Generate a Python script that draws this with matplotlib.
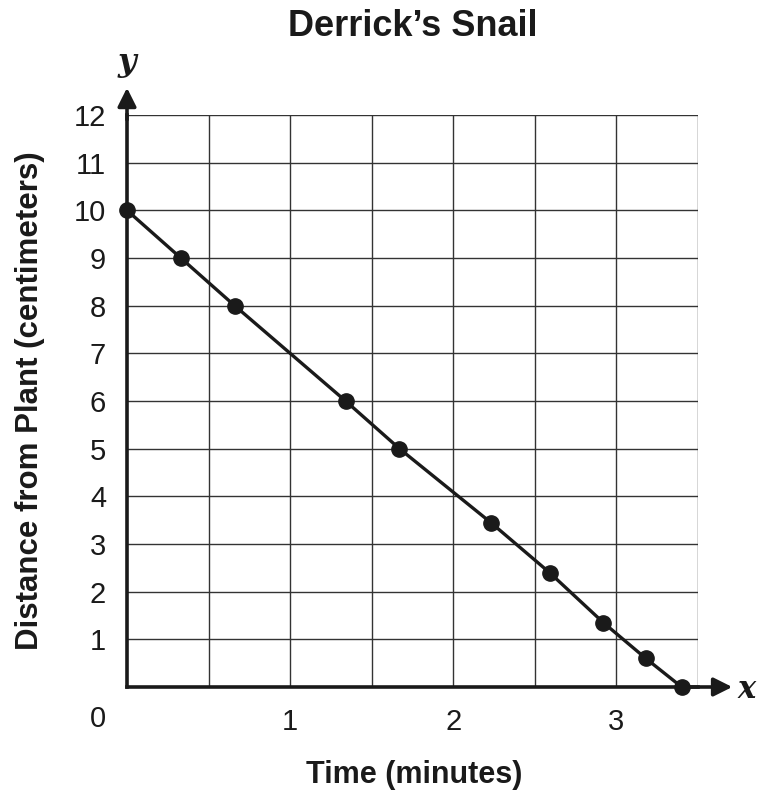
import matplotlib
matplotlib.use("Agg")
import matplotlib.pyplot as plt

# data
time_min = [0, 0.33, 0.66, 1.34, 1.67, 2.23, 2.59, 2.92, 3.18, 3.4]
distance_cm = [10, 9, 8, 6, 5, 3.45, 2.4, 1.35, 0.6, 0]
x_ticks = [1, 2, 3]
y_ticks = list(range(1, 13))

plt.rcParams['font.family'] = ['Liberation Sans', 'DejaVu Sans']

fig = plt.figure(figsize=(7.59, 7.94), dpi=100)
ax = fig.add_axes([127 / 759, 1 - 687 / 794, 571 / 759, 572 / 794])

ax.set_xlim(0, 3.5)
ax.set_ylim(0, 12)

# grid
for gx in [0.5, 1, 1.5, 2, 2.5, 3, 3.5]:
    ax.axvline(gx, color='#333333', lw=1.0, zorder=1)
for gy in y_ticks:
    ax.axhline(gy, color='#333333', lw=1.0, zorder=1)

for s in ['top', 'right']:
    ax.spines[s].set_visible(False)
for s in ['left', 'bottom']:
    ax.spines[s].set_linewidth(2.6)
    ax.spines[s].set_color('#1a1a1a')
    ax.spines[s].set_zorder(3)

ax.plot(time_min, distance_cm, color='#1a1a1a', lw=2.4, marker='o',
        markersize=11, zorder=4, clip_on=False)

ax.set_xticks(x_ticks)
ax.set_xticklabels([str(t) for t in x_ticks])
ax.set_yticks(y_ticks)
ax.set_yticklabels([str(t) for t in y_ticks])
ax.tick_params(axis='x', length=0, pad=15, labelsize=21, labelcolor='#1a1a1a')
ax.tick_params(axis='y', length=0, pad=15, labelsize=21, labelcolor='#1a1a1a')

ax.text(-0.18, -0.67, '0', fontsize=21, ha='center', va='center', color='#1a1a1a')

# arrows on axes
ax.annotate('', xy=(0, 12.57), xytext=(0, 11.9), annotation_clip=False,
            arrowprops=dict(arrowstyle='-|>', color='#1a1a1a', lw=2.6,
                            mutation_scale=28, shrinkA=0, shrinkB=0))
ax.annotate('', xy=(3.71, 0), xytext=(3.45, 0), annotation_clip=False,
            arrowprops=dict(arrowstyle='-|>', color='#1a1a1a', lw=2.6,
                            mutation_scale=28, shrinkA=0, shrinkB=0))

ax.text(0.0, 13.1, 'y', fontsize=23, family='DejaVu Serif', style='italic',
        fontweight='bold', ha='center', va='center', color='#1a1a1a')
ax.text(3.795, -0.06, 'x', fontsize=22, family='DejaVu Serif', style='italic',
        fontweight='bold', ha='center', va='center', color='#1a1a1a')

fig.text(413 / 759, 1 - 27 / 794, 'Derrick\u2019s Snail', fontsize=26,
         fontweight='bold', ha='center', va='center', color='#1a1a1a')
fig.text(414 / 759, 1 - 775 / 794, 'Time (minutes)', fontsize=22,
         fontweight='bold', ha='center', va='center', color='#1a1a1a')
fig.text(30 / 759, 1 - 401 / 794, 'Distance from Plant (centimeters)', fontsize=22.5,
         fontweight='bold', ha='center', va='center', rotation=90, color='#1a1a1a')

fig.savefig('out.png', dpi=100)
